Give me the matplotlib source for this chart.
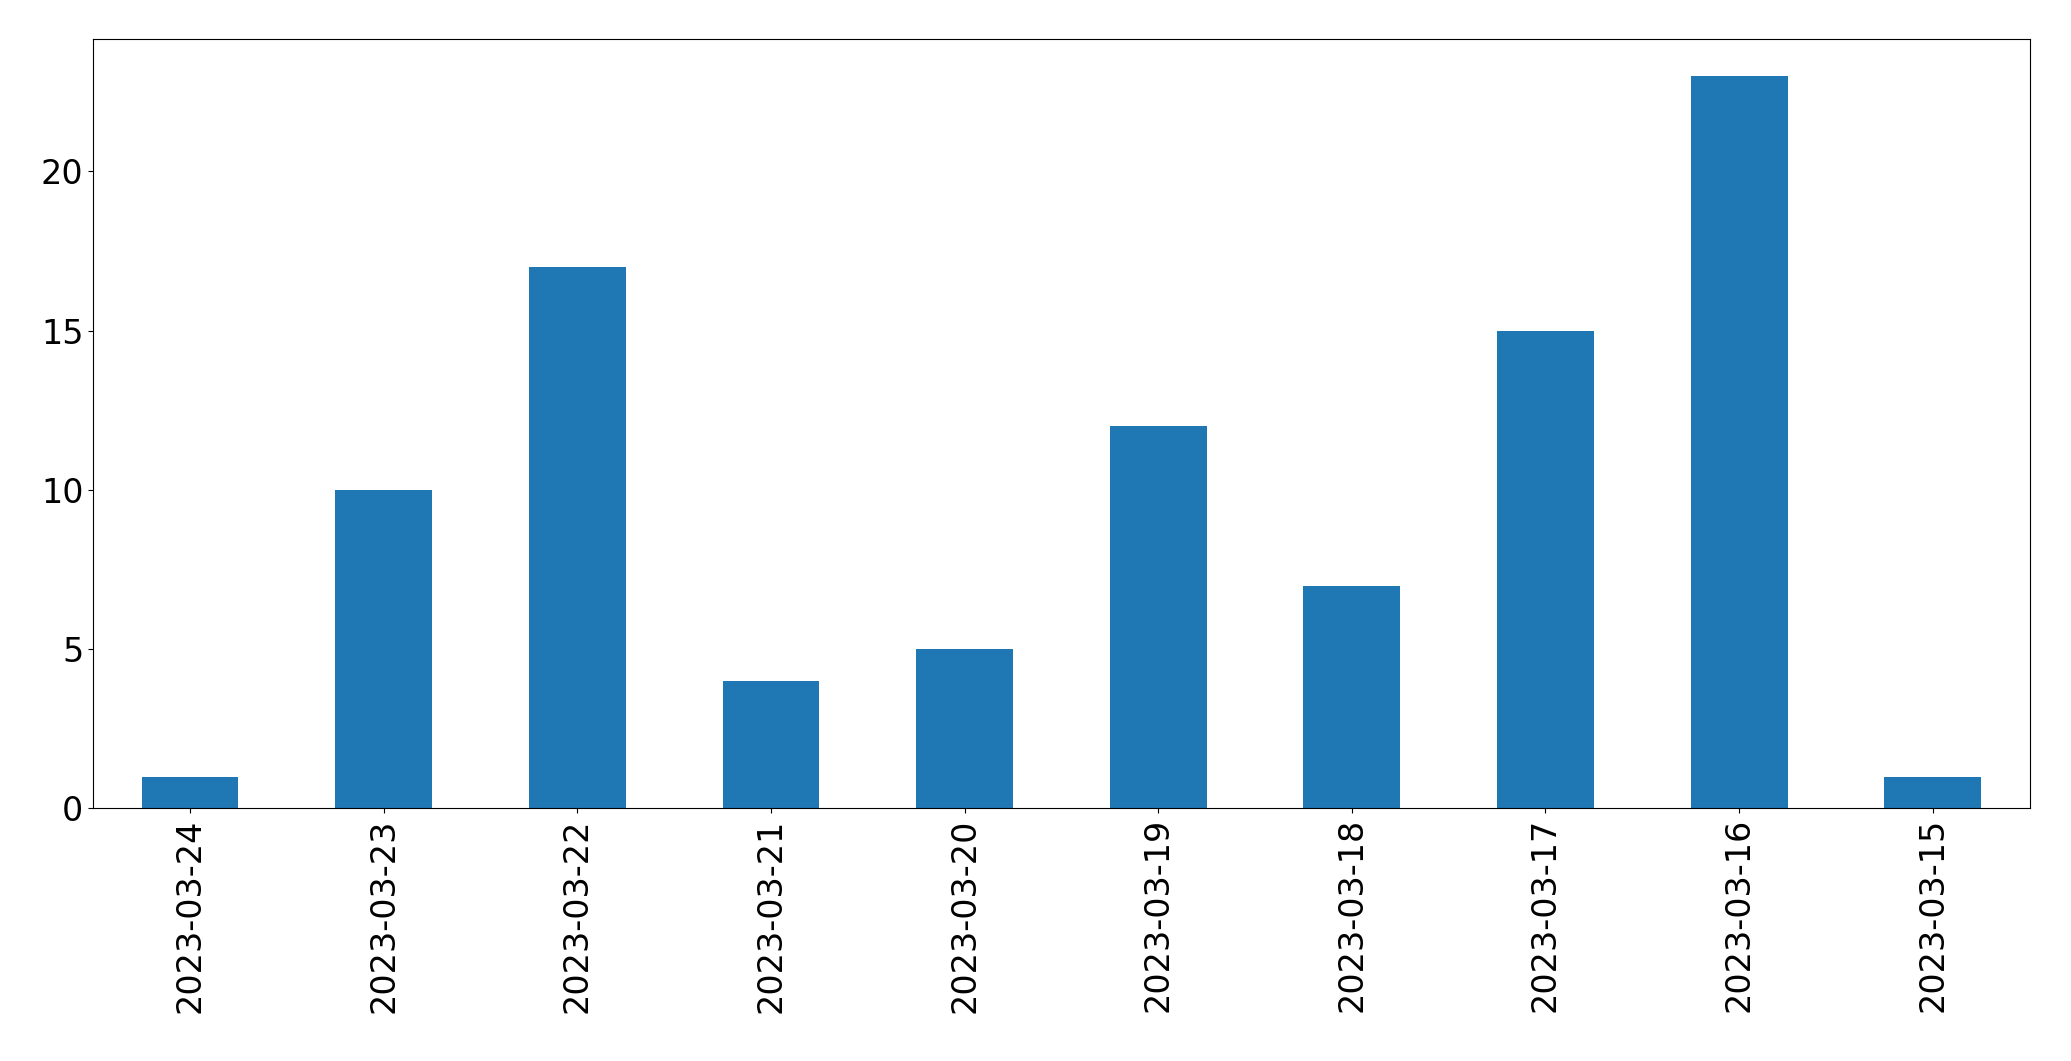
import matplotlib
matplotlib.use("Agg")
import matplotlib.pyplot as plt
import numpy as np

dates = ["2023-03-24", "2023-03-23", "2023-03-22", "2023-03-21", "2023-03-20",
         "2023-03-19", "2023-03-18", "2023-03-17", "2023-03-16", "2023-03-15"]
counts = [1, 10, 17, 4, 5, 12, 7, 15, 23, 1]

fig = plt.figure(figsize=(20.71, 10.61), dpi=100)
ax = fig.add_axes([0.045, 0.238, 0.935, 0.725])

x = np.arange(len(dates))
ax.bar(x, counts, width=0.5, color="#1f77b4")
ax.set_xlim(-0.5, len(dates) - 0.5)
ax.set_ylim(0, max(counts) * 1.05)
ax.set_xticks(x)
ax.set_xticklabels(dates, rotation=90)
ax.tick_params(labelsize=24)

fig.savefig("out.png", dpi=100)
